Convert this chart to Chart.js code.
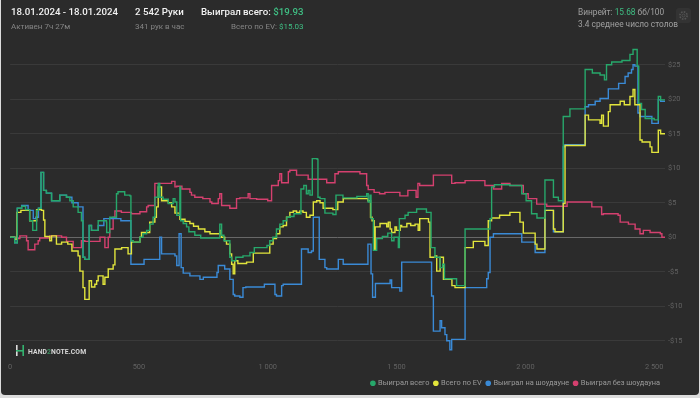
<!DOCTYPE html>
<html>
<head>
<meta charset="utf-8">
<script src="https://cdn.jsdelivr.net/npm/chart.js@4.4.1/dist/chart.umd.min.js"></script>
<style>
  html, body { margin: 0; padding: 0; background: #dcdcdc; }
  #card { position: absolute; left: 1px; top: 0; width: 698px; height: 395px; background: #2b2b2b; border-radius: 0 0 4px 4px; overflow: hidden; font-family: Roboto, "Noto Sans", sans-serif; }
  #chartBox { position: absolute; left: -1px; top: 0; width: 700px; height: 398px; }
  .t { position: absolute; white-space: nowrap; }
  .big { font-size: 9.7px; font-weight: 500; color: #f2f2f2; }
  .small { font-size: 8px; color: #858585; margin-top: 5px; }
  .g { color: #3fbf84; }
  .side { font-size: 8.3px; color: #a0a0a0; }
  #gear { position: absolute; left: 675px; top: 8px; width: 15px; height: 15px; border-radius: 3px; background: #333; }
  #mark { position: absolute; left: 15px; top: 345px; font-size: 6.8px; font-weight: 700; color: #d8d8d8; letter-spacing: 0.1px; }
</style>
</head>
<body>
<div id="card">
  <div id="chartBox"><canvas id="myChart" width="700" height="398"></canvas></div>

  <div class="t" style="left:10px; top:6px">
    <div class="big">18.01.2024 - 18.01.2024</div>
    <div class="small">Активен 7ч 27м</div>
  </div>
  <div class="t" style="left:134px; top:6px">
    <div class="big">2 542 Руки</div>
    <div class="small">341 рук в час</div>
  </div>
  <div class="t" style="left:200px; top:6px; text-align:right">
    <div class="big">Выиграл всего: <span class="g">$19.93</span></div>
    <div class="small">Всего по EV: <span class="g">$15.03</span></div>
  </div>

  <div class="t side" style="left:577px; top:7px">Винрейт: <span class="g">15.68</span> бб/100</div>
  <div class="t side" style="left:577px; top:19px">3.4 среднее число столов</div>
  <div id="gear">
    <svg width="15" height="15" viewBox="0 0 15 15"><circle cx="7.5" cy="7.5" r="3.6" fill="none" stroke="#555" stroke-width="1.6" stroke-dasharray="1.6 1.2"/><circle cx="7.5" cy="7.5" r="1.5" fill="none" stroke="#555" stroke-width="0.8"/></svg>
  </div>

  <div id="mark">
    <svg width="8" height="11" viewBox="0 0 8 11" style="vertical-align:-2px; margin-right:4px"><rect x="0" y="0" width="1.6" height="11" fill="#dcdcdc"/><rect x="6.4" y="0" width="1.6" height="11" fill="#34b36f"/><rect x="0" y="5" width="8" height="1.6" fill="#34b36f"/></svg>HAND<span style="color:#3a8f5f">2</span>NOTE.COM
  </div>
</div>

<script>
// hands played -> cumulative winnings ($)
var wonTotal = [[0,0],[18,-0.8],[28,4.2],[45,4.5],[60,4.0],[76,2.4],[88,1.0],[103,3.9],[110,4.2],[120,9.4],[130,6.8],[141,6.4],[161,5.3],[180,5.3],[193,6.1],[219,5.8],[232,5.3],[245,4.4],[264,3.6],[277,2.4],[283,-2.9],[290,-3.2],[307,1.7],[316,1.0],[342,2.4],[374,2.2],[375,0.7],[387,2.9],[407,2.9],[413,6.3],[419,6.6],[445,6.1],[465,6.0],[469,-0.5],[478,-0.7],[504,0],[516,0.5],[530,1.0],[542,1.9],[555,2.9],[562,5.8],[575,7.8],[581,5.8],[594,5.5],[614,4.9],[627,4.9],[633,5.6],[640,5.1],[647,3.2],[659,7.3],[662,2.4],[672,2.0],[685,1.5],[694,0.8],[717,0.3],[740,-0.1],[814,1.9],[821,0.3],[830,-0.5],[853,-2.9],[860,-3.4],[876,-2.9],[904,-2.7],[931,-2.2],[948,-1.5],[997,-1.2],[1008,-0.5],[1020,0],[1034,1.2],[1047,1.9],[1060,2.4],[1074,2.9],[1086,3.0],[1102,3.4],[1129,7.0],[1140,7.5],[1150,6.3],[1157,6.8],[1164,6.1],[1173,11.4],[1192,11.3],[1195,5.8],[1203,5.6],[1222,3.5],[1253,3.3],[1265,6.1],[1292,5.7],[1346,5.9],[1384,6.3],[1390,5.1],[1397,6.1],[1401,2.7],[1410,-1.9],[1423,-0.2],[1445,0.1],[1466,0.6],[1481,-0.5],[1490,0],[1507,-1.5],[1511,2.7],[1533,3.2],[1545,3.6],[1578,4.1],[1616,3.6],[1634,-1.5],[1649,-2.9],[1669,-4.4],[1679,-3.9],[1686,-6.0],[1733,-7.0],[1766,1.2],[1863,2.7],[1869,7.3],[1880,7.6],[1940,7.5],[1986,6.3],[2003,5.3],[2024,3.4],[2045,2.8],[2076,8.3],[2109,5.8],[2128,5.3],[2147,17.5],[2173,18.6],[2232,24.3],[2260,23.8],[2290,23.5],[2307,22.8],[2315,25.0],[2335,25.4],[2375,25.6],[2406,26.5],[2418,27.2],[2434,24.8],[2440,19.4],[2451,18.5],[2465,17.2],[2500,17.0],[2516,20.4],[2525,19.9],[2542,19.93]];

var wonEV = [[0,0],[18,-0.3],[27,3.6],[42,3.9],[76,2.4],[103,4.0],[122,3.9],[130,2.5],[135,0.1],[154,-0.5],[161,0.2],[180,-1.0],[200,-0.7],[224,-1.0],[240,-2.0],[264,-2.7],[271,-4.9],[283,-7.3],[290,-9.0],[307,-6.3],[316,-7.2],[329,-6.8],[336,-6.3],[342,-5.6],[361,-6.8],[368,-5.8],[381,-4.6],[400,-4.0],[407,-1.7],[433,-1.5],[458,-2.4],[471,-0.7],[504,0],[510,0.7],[542,2.2],[562,2.9],[568,4.4],[575,7.3],[588,5.3],[614,5.0],[627,4.4],[640,3.5],[659,2.6],[679,2.3],[698,2.0],[712,1.6],[731,1.2],[756,0.8],[776,0.5],[814,1.0],[820,0.0],[833,-0.5],[840,-1.0],[853,-2.4],[860,-3.9],[866,-5.3],[872,-3.4],[884,-3.8],[918,-3.6],[944,-2.3],[1008,-1.0],[1021,-0.2],[1034,0.5],[1047,1.5],[1060,1.7],[1073,2.9],[1086,3.6],[1099,3.8],[1112,3.6],[1125,3.8],[1137,3.6],[1150,2.9],[1164,3.2],[1177,5.1],[1190,5.3],[1203,5.0],[1215,4.2],[1253,4.0],[1272,5.1],[1293,5.6],[1389,5.3],[1399,2.9],[1405,2.4],[1413,-1.9],[1417,1.5],[1436,2.0],[1462,1.5],[1468,2.2],[1475,1.2],[1481,0.7],[1494,1.5],[1500,1.0],[1514,1.7],[1520,1.5],[1540,2.0],[1555,1.7],[1572,1.9],[1584,1.0],[1590,2.7],[1624,2.2],[1630,-2.9],[1649,-2.7],[1656,-4.9],[1669,-2.9],[1682,-6.1],[1715,-7.0],[1727,-7.3],[1766,-1.5],[1798,-0.6],[1843,-1.2],[1856,2.4],[1869,2.8],[1900,3.2],[1940,3.6],[1979,2.2],[1992,0.6],[2038,-1.0],[2045,-1.7],[2076,3.9],[2109,1.2],[2115,0.8],[2147,4.9],[2154,13.3],[2232,17.7],[2245,17.0],[2290,16.5],[2296,17.7],[2303,16.1],[2322,18.2],[2329,19.2],[2368,19.7],[2384,19.2],[2406,20.4],[2418,21.4],[2425,19.2],[2445,14.1],[2453,13.8],[2484,13.1],[2491,12.3],[2516,15.5],[2525,15.0],[2542,15.03]];

var wonShowdown = [[0,0],[18,-0.8],[28,4.2],[45,4.6],[60,4.6],[70,3.9],[90,2.7],[100,2.9],[110,4.2],[120,9.4],[130,6.8],[141,6.4],[161,5.3],[180,5.3],[193,6.1],[219,5.8],[240,5.0],[264,4.4],[277,4.4],[283,-2.9],[290,-3.2],[307,1.7],[316,1.0],[342,1.7],[364,2.7],[400,2.7],[430,2.4],[465,2.4],[469,-3.9],[516,-3.9],[520,-3.2],[575,-3.2],[581,0],[588,-2.4],[640,-2.7],[647,-4.1],[656,0.5],[664,-4.4],[672,-5.2],[698,-5.6],[737,-6.1],[750,-5.8],[803,-5.1],[808,-4.1],[833,-4.6],[853,-6.1],[866,-8.3],[872,-8.5],[892,-8.7],[904,-7.3],[915,-7.2],[987,-6.8],[1028,-8.3],[1034,-8.5],[1054,-7.0],[1060,-6.8],[1131,-1.7],[1157,-2.2],[1170,-2.0],[1177,2.9],[1200,-3.2],[1222,-4.4],[1229,-4.6],[1274,-3.2],[1293,-3.9],[1389,-1.0],[1401,-5.3],[1407,-8.7],[1418,-6.7],[1475,-6.2],[1481,-7.3],[1513,-7.8],[1520,-3.6],[1636,-8.5],[1643,-13.6],[1669,-12.1],[1675,-13.1],[1688,-14.1],[1695,-15.0],[1707,-16.3],[1714,-14.8],[1766,-7.3],[1850,-6.0],[1856,-5.1],[1863,0],[1876,0.5],[1986,-0.7],[2038,-2.2],[2076,3.9],[2109,0.8],[2147,13.1],[2154,13.4],[2232,18.9],[2245,19.2],[2271,19.7],[2290,20.1],[2322,21.5],[2362,22.3],[2387,23.3],[2399,23.8],[2412,24.3],[2418,25.0],[2425,24.8],[2437,18.0],[2445,17.5],[2491,16.5],[2516,19.9],[2525,19.7],[2542,19.7]];

var wonNoShowdown = [[0,0],[18,-0.2],[38,0.2],[64,-0.5],[70,-1.8],[96,-1.0],[109,-0.5],[115,-0.1],[154,0.2],[200,0.0],[219,-0.6],[245,-1.5],[277,-0.5],[290,-0.6],[349,0.0],[368,-1.5],[381,0.0],[387,1.2],[400,2.9],[407,3.8],[432,3.6],[471,3.4],[504,3.7],[530,4.4],[536,4.6],[562,7.8],[627,8.1],[640,7.3],[647,7.4],[667,7.0],[698,6.5],[704,6.1],[717,5.8],[748,5.6],[776,5.1],[783,4.9],[808,5.6],[814,6.3],[821,4.6],[853,4.2],[879,5.6],[892,5.7],[924,6.3],[931,5.6],[957,5.5],[1000,5.3],[1015,7.5],[1041,8.2],[1047,9.2],[1054,7.9],[1080,9.5],[1086,9.7],[1112,9.0],[1157,8.4],[1229,7.9],[1261,9.2],[1274,9.5],[1358,9.2],[1384,7.5],[1390,6.9],[1413,6.5],[1434,6.3],[1455,6.5],[1513,6.0],[1544,6.8],[1576,5.8],[1583,7.8],[1590,7.5],[1643,9.0],[1714,7.8],[1727,7.9],[1766,8.2],[1843,7.5],[1876,7.0],[1908,7.8],[1940,7.5],[1992,6.3],[2011,5.6],[2044,4.8],[2083,4.5],[2162,5.1],[2258,4.4],[2296,3.3],[2303,3.4],[2360,3.2],[2368,2.2],[2400,1.9],[2426,1.2],[2445,0.5],[2458,1.0],[2484,0.7],[2524,0.5],[2530,0.0],[2542,0.0]];

var seriesNames = ['Выиграл всего', 'Всего по EV', 'Выиграл на шоудауне', 'Выиграл без шоудауна'];
var seriesColors = ['#27a86b', '#e2e53c', '#3a8ad6', '#d5406f'];
var xTicks = [0, 500, 1000, 1500, 2000, 2500];
var yTicks = [-15, -10, -5, 0, 5, 10, 15, 20, 25];

function toPoints(arr) {
    return arr.map(function (p) { return {x: p[0], y: p[1]}; });
}
function spaced(n) {
    return String(n).replace(/\B(?=(\d{3})+(?!\d))/g, ' ');
}

var allSeries = [wonTotal, wonEV, wonShowdown, wonNoShowdown];
var datasets = allSeries.map(function (s, i) {
    return {
        label: seriesNames[i],
        data: toPoints(s),
        borderColor: seriesColors[i],
        backgroundColor: seriesColors[i],
        borderWidth: 1.4,
        pointRadius: 0,
        stepped: true
    };
});

var ctx = document.getElementById('myChart').getContext('2d');
var chart = new Chart(ctx, {
    type: 'line',
    data: { datasets: datasets },
    options: {
        responsive: false,
        animation: false,
        layout: { padding: { left: 10, right: 0, top: 44, bottom: 1 } },
        plugins: {
            tooltip: { enabled: false },
            legend: {
                position: 'bottom',
                align: 'end',
                fullSize: false,
                labels: {
                    usePointStyle: true,
                    pointStyle: 'circle',
                    boxWidth: 3,
                    boxHeight: 3,
                    padding: 5,
                    color: '#9a9a9a',
                    font: { family: 'Roboto', size: 7.4 }
                }
            }
        },
        scales: {
            x: {
                type: 'linear',
                min: 0,
                max: 2542,
                afterBuildTicks: function (scale) { scale.ticks = xTicks.map(function (v) { return {value: v}; }); },
                afterFit: function (scale) { scale.height = 20; },
                grid: { display: false, drawTicks: false },
                border: { display: false },
                ticks: {
                    padding: 8,
                    maxRotation: 0,
                    color: '#626262',
                    font: { family: 'Roboto', size: 7.4 },
                    callback: function (v) { return spaced(v); }
                }
            },
            y: {
                position: 'right',
                min: -17,
                max: 28,
                afterBuildTicks: function (scale) { scale.ticks = yTicks.map(function (v) { return {value: v}; }); },
                afterFit: function (scale) { scale.width = 35; },
                grid: {
                    drawTicks: false,
                    color: function (c) { return c.tick && c.tick.value === 0 ? '#686868' : '#3a3a3a'; },
                    lineWidth: 1
                },
                border: { display: false },
                ticks: {
                    padding: 3,
                    color: '#626262',
                    font: { family: 'Roboto', size: 7.4 },
                    callback: function (v) { return v < 0 ? '-$' + Math.abs(v) : '$' + v; }
                }
            }
        }
    }
});
</script>
</body>
</html>
